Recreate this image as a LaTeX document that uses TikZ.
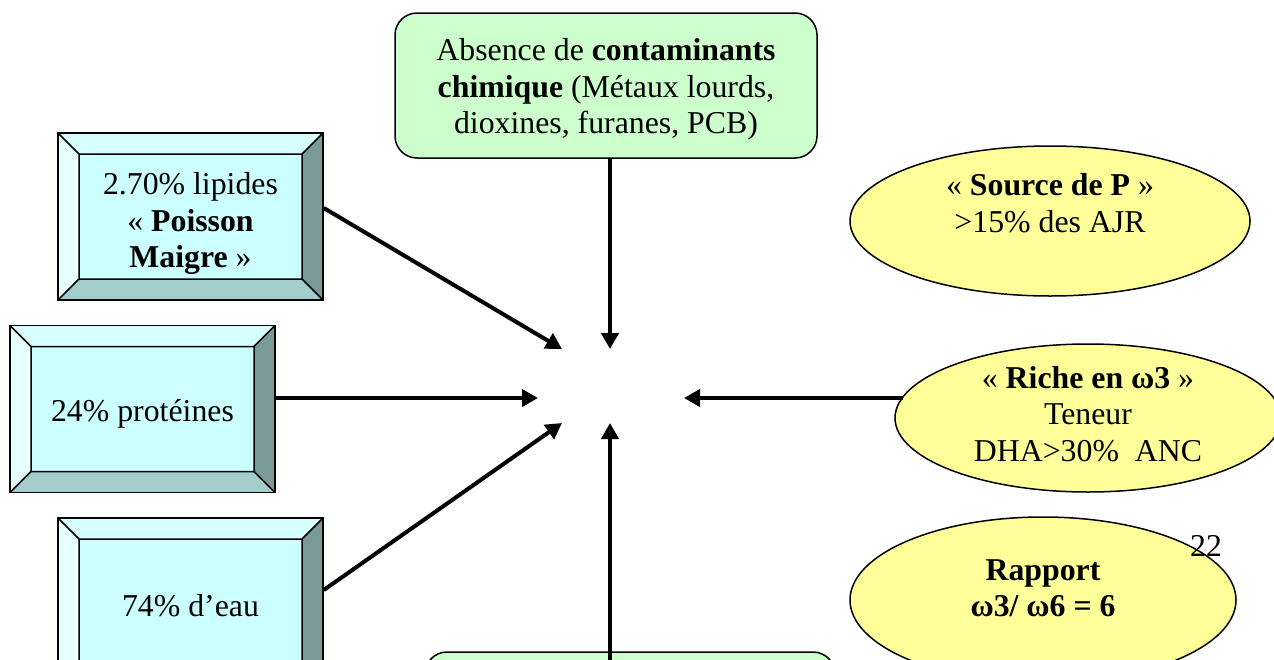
\documentclass[tikz,border=0pt]{standalone}
\usepackage{fontspec}
\setmainfont{Liberation Serif}
\usetikzlibrary{arrows.meta,shapes.geometric,calc}
\definecolor{bvin}{HTML}{CCFFFF}
\definecolor{bvtop}{HTML}{D6FFFF}
\definecolor{bvleft}{HTML}{E8FFFF}
\definecolor{bvright}{HTML}{7A9999}
\definecolor{bvbot}{HTML}{A3CCCC}
\definecolor{greenfill}{HTML}{CCFFCC}
\definecolor{yellowfill}{HTML}{FFFF99}
\tikzset{
  txt/.style={font=\fontsize{31.8}{36.5}\selectfont},
  bevelbox/.style={draw, line width=1.5pt, fill=bvin, minimum width=265pt,
    minimum height=167pt, inner sep=0pt, align=center, txt,
    path picture={
      \coordinate (bNW) at (path picture bounding box.north west);
      \coordinate (bNE) at (path picture bounding box.north east);
      \coordinate (bSE) at (path picture bounding box.south east);
      \coordinate (bSW) at (path picture bounding box.south west);
      \coordinate (iNW) at ([shift={(21pt,-21pt)}]bNW);
      \coordinate (iNE) at ([shift={(-21pt,-21pt)}]bNE);
      \coordinate (iSE) at ([shift={(-21pt,21pt)}]bSE);
      \coordinate (iSW) at ([shift={(21pt,21pt)}]bSW);
      \fill[bvtop] (bNW)--(bNE)--(iNE)--(iNW)--cycle;
      \fill[bvleft] (bNW)--(iNW)--(iSW)--(bSW)--cycle;
      \fill[bvright] (bNE)--(bSE)--(iSE)--(iNE)--cycle;
      \fill[bvbot] (bSW)--(iSW)--(iSE)--(bSE)--cycle;
      \draw[line width=1.5pt] (iNW) rectangle (iSE)
        (bNW)--(iNW) (bNE)--(iNE) (bSE)--(iSE) (bSW)--(iSW);
    }},
  greenbox/.style={draw, line width=1.5pt, fill=greenfill, rounded corners=22pt,
    inner sep=0pt, align=center, txt},
  yellowell/.style={ellipse, draw, line width=1.5pt, fill=yellowfill,
    inner sep=0pt, align=center, txt},
  arr/.style={line width=4pt, -{Triangle[length=16pt,width=17pt]}},
}
\begin{document}
\begin{tikzpicture}[x=1pt,y=-1pt]
\useasboundingbox (0,0) rectangle (1274,659);
\clip (0,0) rectangle (1274,659);

% bevelled boxes
\node[bevelbox] (b1) at (190.5,216.5) {\mbox{}\\ 2.70\% lipides\\ « \textbf{Poisson}\\ \textbf{Maigre} »};
\node[bevelbox] (b2) at (142.5,409) {\mbox{}\\[-4.5pt] 24\% protéines};
\node[bevelbox] (b3) at (190.5,601.5) {\mbox{}\\[-6.5pt] 74\% d’eau};

% green boxes
\node[greenbox, minimum width=422pt, minimum height=145pt] (g1) at (606,85.5)
  {\mbox{}\\[-6.5pt] Absence de \textbf{contaminants}\\ \textbf{chimique} (Métaux lourds,\\ dioxines, furanes, PCB)};
\node[greenbox, minimum width=410pt, minimum height=145pt] (g2) at (630,724.5) {};

% ellipses
\node[yellowell, minimum width=400pt, minimum height=150pt] (e1) at (1050,221)
  {« \textbf{Source de P} »\\ >15\% des AJR\\ \mbox{}};
\node[yellowell, minimum width=386pt, minimum height=148pt] (e2) at (1088,418)
  {« \textbf{Riche en ω3} »\\ Teneur\\ DHA>30\%\ \ ANC\\[-27.5pt]\mbox{}};
\node[yellowell, minimum width=386pt, minimum height=166pt] (e3) at (1043,600)
  {\textbf{Rapport}\\ \textbf{ω3/ ω6 = 6}\\[-13pt]\mbox{}};

\node[txt, inner sep=0pt] (pg) at (1206,546) {22};

% arrow end points around the empty centre
\coordinate (tA) at (562,349);
\coordinate (tL) at (538,398);
\coordinate (tB) at (562,423);
\coordinate (tT) at (610,349);
\coordinate (tU) at (610,423);
\coordinate (tR) at (684,398);

\draw[arr] ([yshift=8.5pt]b1.east) -- (tA);
\draw[arr] (b2.east |- tL) -- (tL);
\draw[arr] ([yshift=11.5pt]b3.east) -- (tB);
\draw[arr] (g1.south -| tT) -- (tT);
\draw[arr] (g2.center -| tU) -- (tU);
\draw[arr] (e2.173.5 |- tR) -- (tR);
\end{tikzpicture}
\end{document}
